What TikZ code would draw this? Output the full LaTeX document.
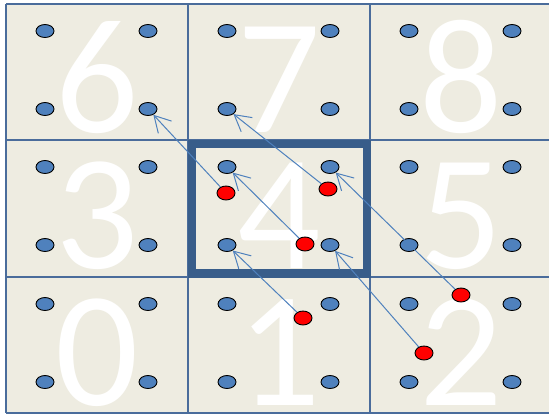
\documentclass[tikz,border=0pt]{standalone}
\usepackage{fontspec}
\newfontfamily\digitfont{Carlito}
\usetikzlibrary{shapes.geometric,arrows.meta}
\definecolor{bgc}{HTML}{EEECE1}
\definecolor{gridc}{HTML}{4A6C9B}
\definecolor{thickc}{HTML}{385D8A}
\definecolor{dotc}{HTML}{4F81BD}
\definecolor{reddot}{HTML}{FF0000}
\tikzset{
  bdot/.style={ellipse, draw=black, line width=0.9bp, fill=dotc, minimum width=18bp, minimum height=13bp, inner sep=0pt},
  rdot/.style={ellipse, draw=black, line width=0.9bp, fill=reddot, minimum width=18bp, minimum height=14bp, inner sep=0pt},
  digit/.style={text=white, anchor=base, inner sep=0pt, text height=110bp, text depth=0pt, font=\digitfont\fontsize{165}{165}\selectfont},
  gridline/.style={draw=gridc, line width=1.2bp},
  thickbox/.style={draw=thickc, line width=8.5bp},
  arr/.style={draw=dotc, line width=1bp, -{Straight Barb[length=16bp,width=18bp,line width=1bp]}}
}
\begin{document}
\begin{tikzpicture}[x=1bp,y=-1bp]
\useasboundingbox (0,0) rectangle (549,414);
\fill[bgc] (6,4) rectangle (549,413);
% big digits
\foreach \n/\c/\r in {6/0/0,7/1/0,8/2/0,3/0/1,4/1/1,5/2/1,0/0/2,1/1/2,2/2/2}{
  \pgfmathsetmacro{\cx}{6+182*\c+91}
  \pgfmathsetmacro{\ty}{\r==0 ? 4 : (\r==1 ? 140 : 277)}
  \node[digit] (n\n) at (\cx,\ty+128) {\n};
}
% grid
\draw[gridline] (6,4) -- (549,4);
\draw[gridline] (6,140) -- (549,140);
\draw[gridline] (6,277) -- (549,277);
\draw[gridline] (6,413) -- (549,413);
\draw[gridline] (6,4) -- (6,413);
\draw[gridline] (188,4) -- (188,413);
\draw[gridline] (370,4) -- (370,413);
% highlighted cell
\draw[thickbox] (192,144) rectangle (367,273.5);
% blue dots
\foreach \n/\c/\r in {6/0/0,7/1/0,8/2/0,3/0/1,4/1/1,5/2/1,0/0/2,1/1/2,2/2/2}{
  \pgfmathsetmacro{\lx}{6+182*\c}
  \pgfmathsetmacro{\ty}{\r==0 ? 4 : (\r==1 ? 140 : 277)}
  \node[bdot] (b\n tl) at (\lx+39,\ty+27) {};
  \node[bdot] (b\n tr) at (\lx+142,\ty+27) {};
  \node[bdot] (b\n bl) at (\lx+39,\ty+105) {};
  \node[bdot] (b\n br) at (\lx+142,\ty+105) {};
}
% red dots
\node[rdot] (r1) at (226,193) {};
\node[rdot] (r2) at (328,189) {};
\node[rdot] (r3) at (305,244) {};
\node[rdot] (r4) at (303,318) {};
\node[rdot] (r5) at (461,295) {};
\node[rdot] (r6) at (424,353) {};
% arrows
\draw[arr] (r1) -- (b6br);
\draw[arr] (r2) -- (b7bl);
\draw[arr] (r3) -- (b4tl);
\draw[arr] (r4) -- (b4bl);
\draw[arr] (r5) -- (b4tr);
\draw[arr] (r6) -- (b4br);
\end{tikzpicture}
\end{document}
